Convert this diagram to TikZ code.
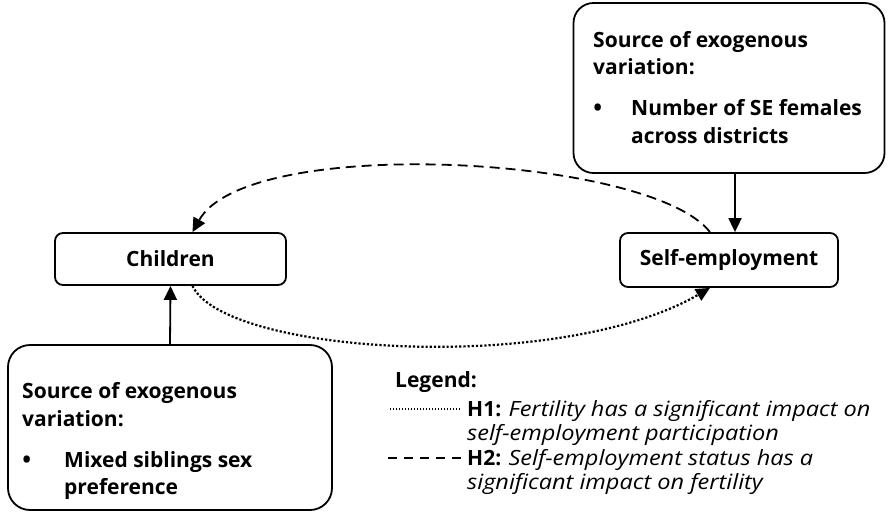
\documentclass[tikz,border=0pt]{standalone}
\usepackage{fontspec}
\setmainfont{Open Sans}[ItalicFeatures={FakeStretch=1.12}]
\usetikzlibrary{arrows.meta}
\begin{document}
\begin{tikzpicture}[x=1pt,y=-1pt,
  box/.style={draw, line width=1.8pt, inner sep=0pt},
  btxt/.style={anchor=base west, inner sep=0pt, font=\fontsize{21}{24}\selectfont\bfseries},
  bul/.style={anchor=base west, inner sep=0pt, font=\fontsize{30}{30}\selectfont},
  ltxt/.style={anchor=base west, inner sep=0pt, font=\fontsize{21}{24}\selectfont},
  conn/.style={line width=1.8pt},
  tip/.style={-{Triangle[length=14pt,width=13pt]}},
  dashline/.style={line width=1.8pt, dash pattern=on 10pt off 6pt},
  dotline/.style={line width=2.2pt, dash pattern=on 2.2pt off 2pt}
]
\useasboundingbox (0,0) rectangle (892,512);

% boxes
\node[box, rounded corners=20pt, minimum width=311pt, minimum height=170pt] (src1) at (729,88) {};
\node[box, rounded corners=8pt, minimum width=231pt, minimum height=52pt, font=\fontsize{21}{24}\selectfont\bfseries] (ch) at (170.5,259) {Children};
\node[box, rounded corners=8pt, minimum width=218pt, minimum height=54pt, font=\fontsize{21}{24}\selectfont\bfseries] (se) at (729,260) {Self-employment};
\node[box, rounded corners=22pt, minimum width=324pt, minimum height=165pt] (src2) at (170,427.5) {};

% texts in top box
\node[btxt] (t1a) at (593,47) {Source of exogenous};
\node[btxt] (t1b) at (593,74) {variation:};
\node[bul] (t1c) at (592,118) {\textbullet};
\node[btxt] (t1d) at (631,115) {Number of SE females};
\node[btxt] (t1e) at (631,143) {across districts};

% texts in bottom box
\node[btxt] (t2a) at (22,398) {Source of exogenous};
\node[btxt] (t2b) at (22,426) {variation:};
\node[bul] (t2c) at (21,470) {\textbullet};
\node[btxt] (t2d) at (64,467) {Mixed siblings sex};
\node[btxt] (t2e) at (64,494) {preference};

% connectors
\draw[conn,tip] ([xshift=6pt]src1.south) -- ([xshift=6pt]se.north);
\draw[conn,tip] (src2.north) -- (ch.south);
\draw[dashline,tip] ([xshift=-19pt]se.north) .. controls (650,155) and (247,134) .. ([xshift=22pt]ch.north);
\draw[dotline,tip] ([xshift=22pt]ch.south) .. controls (225,355) and (560,375) .. ([xshift=-19pt]se.south);

% legend
\node[ltxt, font=\fontsize{21}{24}\selectfont\bfseries] (lg) at (395,387) {Legend:};
\coordinate (d1a) at (390,409);
\coordinate (d1b) at (460,409);
\draw[line width=1.3pt, dash pattern=on 1.3pt off 1.7pt] (d1a) -- (d1b);
\node[ltxt] (h1) at (467,416) {\textbf{H1:} \textit{Fertility has a significant impact on}};
\node[ltxt] (h1b) at (467,440) {\textit{self-employment participation}};
\coordinate (d2a) at (388,458);
\coordinate (d2b) at (465,458);
\draw[line width=1.8pt, dash pattern=on 9pt off 7pt] (d2a) -- (d2b);
\node[ltxt] (h2) at (467,465) {\textbf{H2:} \textit{Self-employment status has a}};
\node[ltxt] (h2b) at (467,489) {\textit{significant impact on fertility}};
\end{tikzpicture}
\end{document}
